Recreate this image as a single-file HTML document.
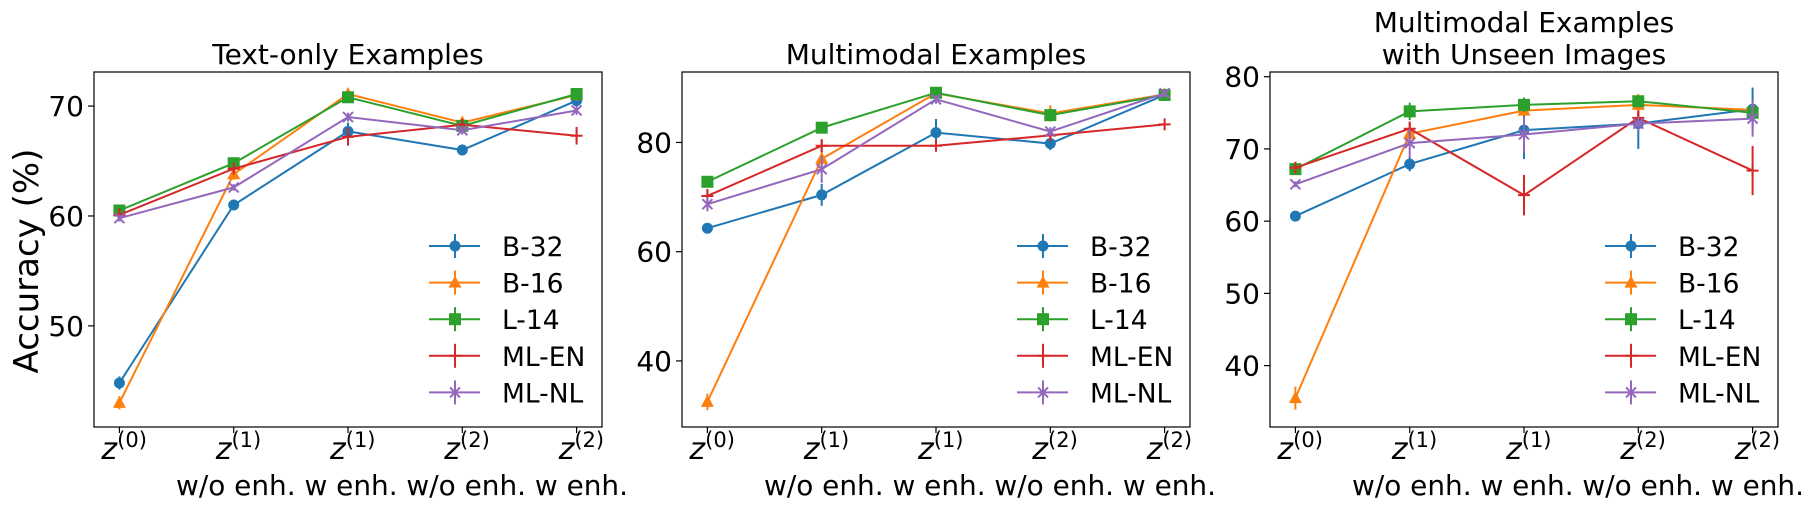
<!DOCTYPE html>
<html><head><meta charset="utf-8"><style>
html,body{margin:0;padding:0;background:#fff;}
svg{display:block;font-family:"DejaVu Sans","Liberation Sans",sans-serif;}
</style></head><body>
<svg id="chart" width="1811" height="511" viewBox="0 0 1811 511" xmlns="http://www.w3.org/2000/svg"></svg>
<script>
const categories = ["0","1","1","2","2"];
const seriesNames = ["B-32","B-16","L-14","ML-EN","ML-NL"];
const panelTitles = [["Text-only Examples"],["Multimodal Examples"],["Multimodal Examples","with Unseen Images"]];
// Panel 1: Text-only
const p1_b32 = [44.8, 61.0, 67.7, 66.0, 70.5];
const p1_b16 = [43.0, 63.8, 71.1, 68.5, 71.0];
const p1_l14 = [60.5, 64.8, 70.8, 68.2, 71.1];
const p1_mlen = [60.1, 64.3, 67.2, 68.3, 67.3];
const p1_mlnl = [59.8, 62.6, 69.0, 67.8, 69.6];
const p1_err = [[0.6,0.3,0.8,0.5,0.6],[0.6,0.5,0.4,0.4,0.5],[0.3,0.3,0.5,0.4,0.4],[0.6,0.3,0.8,0.3,0.8],[0.3,0.3,0.4,0.4,0.4]];
// Panel 2: Multimodal
const p2_b32 = [64.3, 70.4, 81.8, 79.8, 88.7];
const p2_b16 = [32.5, 77.0, 89.0, 85.3, 88.8];
const p2_l14 = [72.8, 82.7, 89.1, 85.0, 88.7];
const p2_mlen = [70.2, 79.4, 79.4, 81.3, 83.3];
const p2_mlnl = [68.7, 75.1, 87.9, 82.0, 89.0];
const p2_err = [[0.5,2.0,2.5,1.2,0.8],[1.5,1.5,0.5,1.5,0.5],[0.6,0.5,0.5,0.5,0.5],[1.3,1.2,0.6,0.5,0.4],[1.3,2.5,0.8,0.8,0.7]];
// Panel 3: Multimodal with unseen images
const p3_b32 = [60.7, 67.9, 72.6, 73.5, 75.5];
const p3_b16 = [35.5, 72.1, 75.3, 76.1, 75.4];
const p3_l14 = [67.2, 75.2, 76.1, 76.6, 75.0];
const p3_mlen = [67.4, 72.8, 63.6, 74.3, 67.0];
const p3_mlnl = [65.1, 70.8, 72.0, 73.5, 74.2];
const p3_err = [[0.4,1.0,4.0,3.5,3.0],[1.6,1.0,0.5,1.5,0.5],[0.4,1.2,1.0,0.6,0.6],[0.5,1.0,2.8,1.0,3.4],[0.4,2.0,2.5,1.0,2.5]];
const yTicks1 = [50, 60, 70];
const yTicks2 = [40, 60, 80];
const yTicks3 = [40, 50, 60, 70, 80];
const yRanges = [[40.8, 73.1],[27.9, 92.9],[31.5, 80.65]];

const colors = ["#1f77b4","#ff7f0e","#2ca02c","#d62728","#9467bd"];
const markers = ["o","^","s","+","x"];
const NS = "http://www.w3.org/2000/svg";
const svg = document.getElementById("chart");
function mk(tag, attrs, parent){const e=document.createElementNS(NS,tag);for(const k in attrs)e.setAttribute(k,attrs[k]);(parent||svg).appendChild(e);return e;}

const panels = [
 {left:94, data:[p1_b32,p1_b16,p1_l14,p1_mlen,p1_mlnl], err:p1_err, ticks:yTicks1, range:yRanges[0]},
 {left:682, data:[p2_b32,p2_b16,p2_l14,p2_mlen,p2_mlnl], err:p2_err, ticks:yTicks2, range:yRanges[1]},
 {left:1270, data:[p3_b32,p3_b16,p3_l14,p3_mlen,p3_mlnl], err:p3_err, ticks:yTicks3, range:yRanges[2]}
];
const TOP=72, BOT=427, W=508;

function marker(g, type, x, y, c){
  let m;
  if(type==="o") m=mk("circle",{cx:x,cy:y,r:5.5,fill:c},g);
  else if(type==="^") m=mk("polygon",{points:`${x},${y-7} ${x-6.5},${y+5} ${x+6.5},${y+5}`,fill:c},g);
  else if(type==="s") m=mk("rect",{x:x-6,y:y-6,width:12,height:12,fill:c},g);
  else if(type==="+") m=mk("path",{d:`M${x-6},${y}H${x+6}M${x},${y-6}V${y+6}`,stroke:c,"stroke-width":2,fill:"none"},g);
  else m=mk("path",{d:`M${x-5},${y-5}L${x+5},${y+5}M${x-5},${y+5}L${x+5},${y-5}`,stroke:c,"stroke-width":2,fill:"none"},g);
  return m;
}

panels.forEach((p, pi)=>{
  const g = mk("g",{});
  
  
  const xs = i => p.left + W*(0.05 + 0.9*i/(categories.length-1));
  const ys = v => BOT - (v - p.range[0])/(p.range[1]-p.range[0])*(BOT-TOP);
  const tl = panelTitles[pi];
  tl.forEach((t, li)=>{
    const tt = mk("text",{x:p.left+W/2, y: tl.length===1 ? 64 : 32+li*32, "text-anchor":"middle","font-size":28,fill:"#000"},g);
    tt.textContent=t;
    
    
  });
  p.ticks.forEach(v=>{
    const y=ys(v);
    mk("line",{x1:p.left-6,x2:p.left,y1:y,y2:y,stroke:"#000","stroke-width":1.2},g);
    const t=mk("text",{x:p.left-10,y:y+10,"text-anchor":"end","font-size":28},g);
    t.textContent=v;
    
    
  });
  categories.forEach((c,i)=>{
    const x=xs(i);
    mk("line",{x1:x,x2:x,y1:BOT,y2:BOT+6,stroke:"#000","stroke-width":1.2},g);
    const t=mk("text",{x:x-18,y:BOT+32,"font-size":30},g);
    const a=mk("tspan",{"font-style":"italic"},t); a.textContent="z";
    const b=mk("tspan",{dy:-12,"font-size":21},t); b.textContent="("+c+")";
    
    
  });
  const xl=mk("text",{x:p.left+82,y:BOT+68,"font-size":28,textLength:452,lengthAdjust:"spacingAndGlyphs"},g);
  xl.textContent="w/o enh. w enh. w/o enh. w enh.";
  
  
  p.data.forEach((vals, si)=>{
    const c=colors[si];
    const sg=mk("g",{},g);
    
    
    mk("polyline",{points:vals.map((v,i)=>xs(i)+","+ys(v)).join(" "),fill:"none",stroke:c,"stroke-width":2},sg);
    vals.forEach((v,i)=>{
      const e=p.err[si][i];
      mk("line",{x1:xs(i),x2:xs(i),y1:ys(v-e),y2:ys(v+e),stroke:c,"stroke-width":2},sg);
      const m=marker(sg,markers[si],xs(i),ys(v),c);
      
      
    });
  });
  mk("rect",{x:p.left,y:TOP,width:W,height:BOT-TOP,fill:"none",stroke:"#000","stroke-width":1.2},g);
  const lg=mk("g",{},g);
  
  
  seriesNames.forEach((n,si)=>{
    const y=246+si*36.6, x0=p.left+W-173, c=colors[si];
    const eg=mk("g",{},lg);
    
    
    mk("line",{x1:x0,x2:x0+51,y1:y,y2:y,stroke:c,"stroke-width":2},eg);
    mk("line",{x1:x0+26,x2:x0+26,y1:y-12,y2:y+12,stroke:c,"stroke-width":2},eg);
    marker(eg,markers[si],x0+26,y,c);
    const t=mk("text",{x:x0+73,y:y+10,"font-size":26.5},eg);
    t.textContent=n;
  });
});
const yl=mk("text",{x:0,y:0,"font-size":34,"text-anchor":"middle",transform:"translate(38,261) rotate(-90)"});
yl.textContent="Accuracy (%)";


</script>
</body></html>
